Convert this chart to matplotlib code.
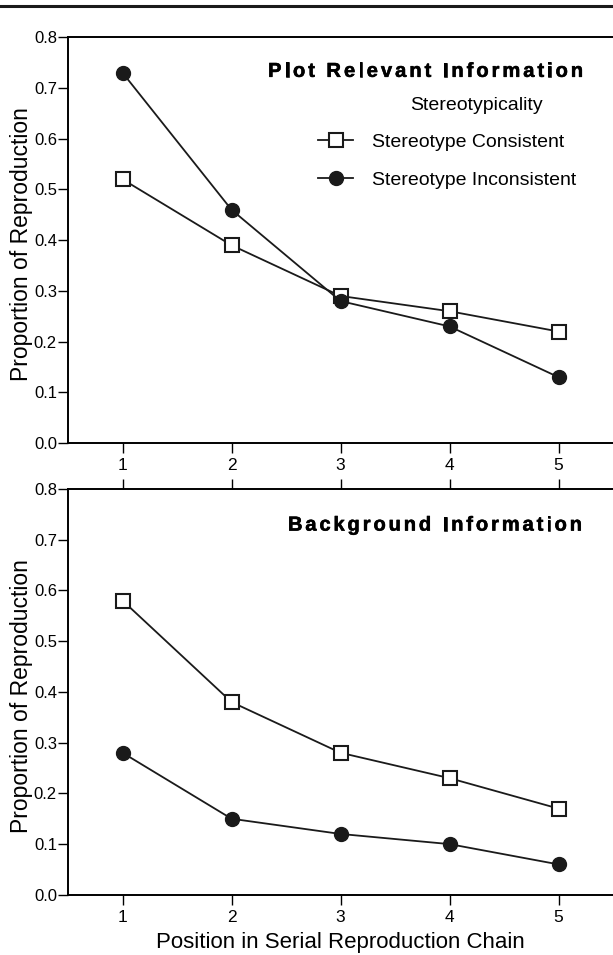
import numpy as np
import matplotlib.pyplot as plt
import matplotlib.patheffects as pe
from matplotlib.lines import Line2D
from matplotlib.font_manager import FontProperties
from matplotlib.transforms import offset_copy

plt.rcParams['font.family'] = ['Liberation Sans', 'DejaVu Sans']

# data
positions = [1, 2, 3, 4, 5]
plot_consistent = [0.52, 0.39, 0.29, 0.26, 0.22]
plot_inconsistent = [0.73, 0.46, 0.28, 0.23, 0.13]
bg_consistent = [0.58, 0.38, 0.28, 0.23, 0.17]
bg_inconsistent = [0.28, 0.15, 0.12, 0.10, 0.06]
yticks = [0.0, 0.1, 0.2, 0.3, 0.4, 0.5, 0.6, 0.7, 0.8]

fig = plt.figure(figsize=(6.13, 9.55), dpi=100)

ax1 = fig.add_axes([0.111, 0.536, 0.889, 0.425])
ax2 = fig.add_axes([0.111, 0.063, 0.889, 0.425])


def style(ax, top_ticks):
    ax.set_xlim(0.5, 5.5)
    ax.set_ylim(0, 0.8)
    ax.set_yticks(yticks)
    ax.set_yticklabels(['%.1f' % v for v in yticks], fontsize=12)
    ax.set_xticks(positions)
    ax.set_xticklabels([str(p) for p in positions], fontsize=12.5)
    ax.spines['right'].set_visible(False)
    for s in ['left', 'top', 'bottom']:
        ax.spines[s].set_linewidth(1.4)
    ax.tick_params(axis='y', length=7, width=1.0, pad=1)
    ax.tick_params(axis='x', length=7, width=1.0, pad=4, top=top_ticks)
    ax.set_ylabel('Proportion of Reproduction', fontsize=16.5)
    ax.yaxis.set_label_coords(-0.065, 0.49)


def series(ax, cons, incons):
    ax.plot(positions, cons, '-', color='#1a1a1a', lw=1.3, marker='s', ms=9.5,
            mfc='white', mec='#1a1a1a', mew=1.5, label='Stereotype Consistent',
            clip_on=False, zorder=3)
    ax.plot(positions, incons, '-', color='#1a1a1a', lw=1.3, marker='o', ms=10,
            mfc='#1a1a1a', mec='#1a1a1a', label='Stereotype Inconsistent',
            clip_on=False, zorder=3)


def spaced_title(ax, x, y, s, width_px, size=14.5):
    # bold heading with wide letter spacing, right edge at (x, y) in axes coords
    renderer = fig.canvas.get_renderer()
    prop = FontProperties(family='Liberation Sans', weight='bold', size=size)

    def w(t):
        return renderer.get_text_width_height_descent(t, prop, ismath=False)[0]

    ref = w('l')
    offs = [w(s[:i] + 'l') - ref for i in range(len(s))]
    natural = offs[-1] + w(s[-1])
    track = (width_px - natural) / (len(s) - 1)
    start = -width_px
    for i, ch in enumerate(s):
        if ch == ' ':
            continue
        tr = offset_copy(ax.transAxes, fig=fig, x=start + offs[i] + i * track,
                         y=0, units='dots')
        ax.text(x, y, ch, transform=tr, ha='left', va='center',
                fontproperties=prop, color='black',
                path_effects=[pe.withStroke(linewidth=0.4, foreground='black')])


series(ax1, plot_consistent, plot_inconsistent)
series(ax2, bg_consistent, bg_inconsistent)
style(ax1, False)
style(ax2, True)
ax2.set_xlabel('Position in Serial Reproduction Chain', fontsize=16, labelpad=5)

spaced_title(ax1, 0.945, 0.916, 'Plot Relevant Information', 315)
spaced_title(ax2, 0.943, 0.911, 'Background Information', 294)
ax1.text(0.750, 0.8325, 'Stereotypicality', transform=ax1.transAxes,
         ha='center', va='center', fontsize=14)
ax1.legend(loc='center left', bbox_to_anchor=(0.4587, 0.6946), frameon=False,
           fontsize=14, handlelength=1.8, handletextpad=1.0, labelspacing=1.05,
           borderaxespad=0, borderpad=0)

# rule across the top of the page
fig.add_artist(Line2D([0, 1], [0.9935, 0.9935], transform=fig.transFigure,
                      color='#1a1a1a', lw=2.2))

fig.savefig('out.png', dpi=100)
